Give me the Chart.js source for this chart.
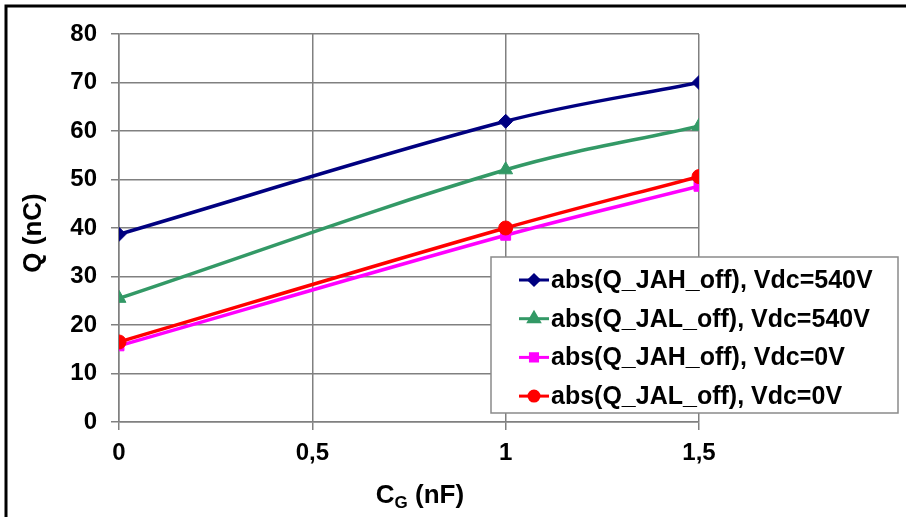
<!DOCTYPE html>
<html>
<head>
<meta charset="utf-8">
<script src="https://cdn.jsdelivr.net/npm/chart.js@4/dist/chart.umd.min.js"></script>
<style>
  html, body { margin: 0; padding: 0; background: #fff; }
  #wrap { position: relative; width: 906px; height: 517px; }
</style>
</head>
<body>
<div id="wrap"><canvas id="myChart" width="906" height="517"></canvas></div>
<script>
// values
const capG = [0, 1, 1.5];
const qJahHv = [38.7, 62, 70];
const qJalHv = [25.5, 52, 61];
const qJah0 = [15.7, 38.5, 48.6];
const qJal0 = [16.5, 40, 50.6];
const seriesNames = [
    'abs(Q_JAH_off), Vdc=540V',
    'abs(Q_JAL_off), Vdc=540V',
    'abs(Q_JAH_off), Vdc=0V',
    'abs(Q_JAL_off), Vdc=0V'
];
const yTicks = [0, 10, 20, 30, 40, 50, 60, 70, 80];

const FONT = "'Liberation Sans', Arial, sans-serif";

function makeSet(label, values, color, style, radius, order) {
    return {
        label: label,
        data: capG.map((x, i) => ({ x: x, y: values[i] })),
        borderColor: color,
        backgroundColor: color,
        borderWidth: 3.5,
        pointStyle: style,
        pointRadius: radius,
        pointBorderWidth: 1,
        tension: 0.35,
        fill: false,
        order: order
    };
}

const datasets = [
    makeSet(seriesNames[0], qJahHv, '#000080', 'rectRot', 7, 3),
    makeSet(seriesNames[1], qJalHv, '#339966', 'triangle', 8, 2),
    makeSet(seriesNames[2], qJah0, '#ff00ff', 'rect', 7, 1),
    makeSet(seriesNames[3], qJal0, '#ff0000', 'circle', 7, 0)
];

// legend box, axis titles and frame drawn by hand
const extras = {
    id: 'extras',
    afterDraw(chart) {
        const ctx = chart.ctx;
        ctx.save();
        // frame
        ctx.strokeStyle = '#000';
        ctx.lineWidth = 3;
        ctx.beginPath();
        ctx.moveTo(6, 517);
        ctx.lineTo(6, 6);
        ctx.lineTo(906, 6);
        ctx.stroke();

        // legend
        const bx = 491, by = 257, bw = 407, bh = 156;
        ctx.fillStyle = '#fff';
        ctx.fillRect(bx, by, bw, bh);
        ctx.strokeStyle = '#8a8a8a';
        ctx.lineWidth = 1.5;
        ctx.strokeRect(bx, by, bw, bh);
        ctx.font = 'bold 25px ' + FONT;
        ctx.textBaseline = 'middle';
        chart.data.datasets.forEach((ds, i) => {
            const y = 280 + i * 38.7;
            ctx.strokeStyle = ds.borderColor;
            ctx.lineWidth = 3;
            ctx.beginPath();
            ctx.moveTo(519, y);
            ctx.lineTo(549, y);
            ctx.stroke();
            Chart.helpers.drawPoint(ctx, {
                pointStyle: ds.pointStyle,
                radius: ds.pointRadius - 2,
                rotation: 0,
                borderWidth: 1
            }, 534, y);
            ctx.fillStyle = ds.borderColor;
            ctx.fill();
            ctx.fillStyle = '#000';
            ctx.textAlign = 'left';
            ctx.fillText(ds.label, 551, y + 1);
        });

        // y title
        ctx.fillStyle = '#000';
        ctx.save();
        ctx.translate(34, 233);
        ctx.rotate(-Math.PI / 2);
        ctx.textAlign = 'center';
        ctx.font = 'bold 26px ' + FONT;
        ctx.fillText('Q (nC)', 0, 0);
        ctx.restore();

        // x title with subscript
        const c = 'C', rest = ' (nF)';
        ctx.font = 'bold 26px ' + FONT;
        const wc = ctx.measureText(c).width;
        const wr = ctx.measureText(rest).width;
        ctx.font = 'bold 17px ' + FONT;
        const wg = ctx.measureText('G').width;
        const x0 = 420 - (wc + wg + wr) / 2;
        ctx.textAlign = 'left';
        ctx.font = 'bold 26px ' + FONT;
        ctx.fillText(c, x0, 496);
        ctx.font = 'bold 17px ' + FONT;
        ctx.fillText('G', x0 + wc, 503);
        ctx.font = 'bold 26px ' + FONT;
        ctx.fillText(rest, x0 + wc + wg, 496);
        ctx.restore();
    }
};

const ctx = document.getElementById('myChart').getContext('2d');
new Chart(ctx, {
    type: 'line',
    data: { datasets: datasets },
    plugins: [extras],
    options: {
        responsive: false,
        animation: false,
        layout: { padding: { top: 34, right: 207, bottom: 0, left: 0 } },
        plugins: {
            legend: { display: false },
            tooltip: { enabled: false }
        },
        scales: {
            x: {
                type: 'linear',
                min: 0,
                max: 1.5,
                afterFit: (s) => { s.height = 95; },
                ticks: {
                    stepSize: 0.5,
                    padding: 9,
                    color: '#000',
                    font: { family: FONT, size: 24, weight: 'bold' },
                    callback: (v) => String(v).replace('.', ',')
                },
                grid: { color: '#808080', lineWidth: 1.5, tickLength: 8 },
                border: { color: '#808080', width: 1.5 }
            },
            y: {
                min: 0,
                max: 80,
                afterFit: (s) => { s.width = 119; },
                afterBuildTicks: (s) => { s.ticks = yTicks.map(v => ({ value: v })); },
                ticks: {
                    padding: 14,
                    color: '#000',
                    font: { family: FONT, size: 24, weight: 'bold' }
                },
                grid: { color: '#808080', lineWidth: 1.5, tickLength: 8 },
                border: { color: '#808080', width: 1.5 }
            }
        }
    }
});
</script>
</body>
</html>
